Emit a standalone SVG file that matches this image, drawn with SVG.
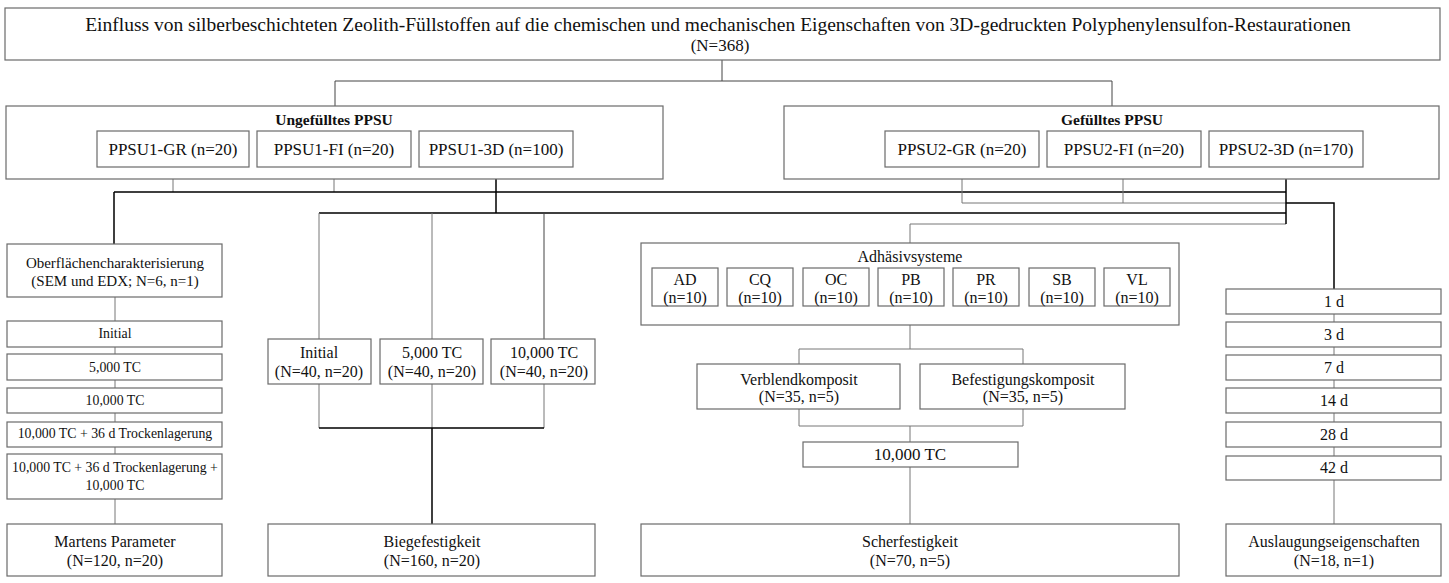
<svg xmlns="http://www.w3.org/2000/svg" width="1449" height="583" viewBox="0 0 1449 583">
<style>
rect{fill:#fff;stroke:#6a6a6a;stroke-width:1.2}
text{font-family:"Liberation Serif","Times New Roman",serif;fill:#111;text-anchor:middle}
.t1{font-size:19.5px}
.t2{font-size:17px}
.b{font-size:15.5px;font-weight:bold}
.p{font-size:17px}
.m{font-size:16px}
.s{font-size:13.8px}
.k{stroke:#000;stroke-width:1.5;fill:none}
.g{stroke:#777;stroke-width:1;fill:none}
.d{stroke:#444;stroke-width:1;fill:none}
</style>
<rect width="1449" height="583" style="fill:#fff;stroke:none"/>
<g id="connectors">
<path class="d" d="M722,60V81M335,81H1112M335,81V106M1112,81V106"/>
<path class="g" d="M173,167V192M334,167V192"/>
<path class="k" d="M496,167V213M114,192H1286M114,192V244M319,213H1286"/>
<path class="g" d="M319,213V339M432,213V339"/>
<path class="d" d="M544,213V339"/>
<path class="g" d="M962,167V203M1123,167V203M962,203H1286M910,224H1286M910,224V243"/>
<path class="k" d="M1286,167V224M1286,203H1334V289"/>
<path class="g" d="M115,297V321M115,347V354M115,380V388M115,413V422M115,447V454M115,499V524"/>
<path class="g" d="M319,384V428M544,384V428M432,384V428"/>
<path class="k" d="M319,428H544M432,428V524"/>
<path class="g" d="M910,325V349M799,349H1023M799,349V364M1023,349V364"/>
<path class="g" d="M799,409V426M1023,409V426M799,426H1023M910,426V442M910,467V524"/>
<path class="g" d="M1334,314V322M1334,347V355M1334,380V388M1334,413V422M1334,447V456M1334,480V524"/>
</g>
<g id="title">
<rect x="5" y="8" width="1435" height="52"/>
<text class="t1" x="718" y="31">Einfluss von silberbeschichteten Zeolith-Füllstoffen auf die chemischen und mechanischen Eigenschaften von 3D-gedruckten Polyphenylensulfon-Restaurationen</text>
<text class="t2" x="720" y="51">(N=368)</text>
</g>
<g id="ungefuellt">
<rect x="6" y="106" width="657" height="73"/>
<text class="b" x="334" y="125">Ungefülltes PPSU</text>
</g>
<g id="ppsu1-gr"><rect x="97" y="131" width="152" height="36"/><text class="p" x="173" y="155">PPSU1-GR (n=20)</text></g>
<g id="ppsu1-fi"><rect x="257" y="131" width="154" height="36"/><text class="p" x="334" y="155">PPSU1-FI (n=20)</text></g>
<g id="ppsu1-3d"><rect x="419" y="131" width="154" height="36"/><text class="p" x="496" y="155">PPSU1-3D (n=100)</text></g>
<g id="gefuellt">
<rect x="784" y="106" width="655" height="73"/>
<text class="b" x="1112" y="125">Gefülltes PPSU</text>
</g>
<g id="ppsu2-gr"><rect x="885" y="131" width="154" height="36"/><text class="p" x="962" y="155">PPSU2-GR (n=20)</text></g>
<g id="ppsu2-fi"><rect x="1047" y="131" width="154" height="36"/><text class="p" x="1124" y="155">PPSU2-FI (n=20)</text></g>
<g id="ppsu2-3d"><rect x="1209" y="131" width="154" height="36"/><text class="p" x="1286" y="155">PPSU2-3D (n=170)</text></g>
<g id="oberflaeche"><rect x="7" y="244" width="215" height="53"/><text class="m" x="115" y="268" style="font-size:15px">Oberflächencharakterisierung</text><text class="m" x="115" y="286" style="font-size:15px">(SEM und EDX; N=6, n=1)</text></g>
<g id="l-initial"><rect x="7" y="321" width="215" height="26"/><text class="s" x="115" y="338">Initial</text></g>
<g id="l-5000"><rect x="7" y="354" width="215" height="26"/><text class="s" x="115" y="372">5,000 TC</text></g>
<g id="l-10000"><rect x="7" y="388" width="215" height="25"/><text class="s" x="115" y="405">10,000 TC</text></g>
<g id="l-36d"><rect x="7" y="422" width="215" height="25"/><text class="s" x="115" y="438">10,000 TC + 36 d Trockenlagerung</text></g>
<g id="l-36d-10000"><rect x="7" y="454" width="215" height="45"/><text class="s" x="115" y="472">10,000 TC + 36 d Trockenlagerung +</text><text class="s" x="115" y="490">10,000 TC</text></g>
<g id="martens"><rect x="7" y="524" width="215" height="52"/><text class="m" x="115" y="547">Martens Parameter</text><text class="m" x="115" y="566">(N=120, n=20)</text></g>
<g id="m-initial"><rect x="268" y="339" width="103" height="45"/><text class="m" x="319" y="358">Initial</text><text class="m" x="319" y="377">(N=40, n=20)</text></g>
<g id="m-5000"><rect x="380" y="339" width="103" height="45"/><text class="m" x="432" y="358">5,000 TC</text><text class="m" x="432" y="377">(N=40, n=20)</text></g>
<g id="m-10000"><rect x="491" y="339" width="104" height="45"/><text class="m" x="544" y="358">10,000 TC</text><text class="m" x="544" y="377">(N=40, n=20)</text></g>
<g id="biege"><rect x="268" y="524" width="327" height="52"/><text class="m" x="432" y="547">Biegefestigkeit</text><text class="m" x="432" y="566">(N=160, n=20)</text></g>
<g id="adhaesiv">
<rect x="641" y="243" width="538" height="82"/>
<text class="m" x="910" y="262">Adhäsivsysteme</text>
</g>
<g id="ad"><rect x="652" y="268" width="66" height="38"/><text class="m" x="685" y="285">AD</text><text class="m" x="685" y="303">(n=10)</text></g>
<g id="cq"><rect x="727" y="268" width="66" height="38"/><text class="m" x="760" y="285">CQ</text><text class="m" x="760" y="303">(n=10)</text></g>
<g id="oc"><rect x="803" y="268" width="66" height="38"/><text class="m" x="836" y="285">OC</text><text class="m" x="836" y="303">(n=10)</text></g>
<g id="pb"><rect x="878" y="268" width="66" height="38"/><text class="m" x="911" y="285">PB</text><text class="m" x="911" y="303">(n=10)</text></g>
<g id="pr"><rect x="953" y="268" width="66" height="38"/><text class="m" x="986" y="285">PR</text><text class="m" x="986" y="303">(n=10)</text></g>
<g id="sb"><rect x="1029" y="268" width="66" height="38"/><text class="m" x="1062" y="285">SB</text><text class="m" x="1062" y="303">(n=10)</text></g>
<g id="vl"><rect x="1104" y="268" width="66" height="38"/><text class="m" x="1137" y="285">VL</text><text class="m" x="1137" y="303">(n=10)</text></g>
<g id="verblend"><rect x="697" y="364" width="203" height="45"/><text class="m" x="799" y="385">Verblendkomposit</text><text class="m" x="799" y="402">(N=35, n=5)</text></g>
<g id="befestigung"><rect x="920" y="364" width="205" height="45"/><text class="m" x="1023" y="385">Befestigungskomposit</text><text class="m" x="1023" y="402">(N=35, n=5)</text></g>
<g id="s-10000"><rect x="803" y="442" width="215" height="25"/><text class="m" x="910" y="460" style="font-size:17px">10,000 TC</text></g>
<g id="scher"><rect x="641" y="524" width="538" height="52"/><text class="m" x="910" y="547">Scherfestigkeit</text><text class="m" x="910" y="566">(N=70, n=5)</text></g>
<g id="d1"><rect x="1226" y="289" width="215" height="25"/><text class="m" x="1334" y="307">1 d</text></g>
<g id="d3"><rect x="1226" y="322" width="215" height="25"/><text class="m" x="1334" y="340">3 d</text></g>
<g id="d7"><rect x="1226" y="355" width="215" height="25"/><text class="m" x="1334" y="373">7 d</text></g>
<g id="d14"><rect x="1226" y="388" width="215" height="25"/><text class="m" x="1334" y="406">14 d</text></g>
<g id="d28"><rect x="1226" y="422" width="215" height="25"/><text class="m" x="1334" y="440">28 d</text></g>
<g id="d42"><rect x="1226" y="456" width="215" height="24"/><text class="m" x="1334" y="473">42 d</text></g>
<g id="auslaugung"><rect x="1226" y="524" width="215" height="52"/><text class="m" x="1334" y="547">Auslaugungseigenschaften</text><text class="m" x="1334" y="566">(N=18, n=1)</text></g>
</svg>
